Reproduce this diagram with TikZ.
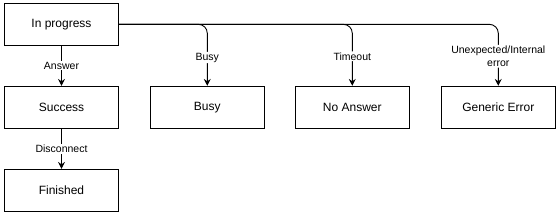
\documentclass[tikz,border=0pt]{standalone}
\usepackage{fontspec}
\setmainfont{Liberation Sans}
\usetikzlibrary{arrows.meta}
\begin{document}
\begin{tikzpicture}[x=1pt,y=-1pt,
  box/.style={draw,line width=0.9pt,minimum width=114pt,minimum height=42pt,inner sep=0pt,font=\fontsize{12}{14}\selectfont},
  conn/.style={line width=0.9pt,-{Stealth[length=7pt,width=7pt,inset=2.5pt]}},
  lbl/.style={fill=white,inner sep=1pt,font=\fontsize{10.5}{13}\selectfont,align=center}]
\useasboundingbox (0,0) rectangle (560,214);
\node[box] (prog) at (61.5,24.3) {In progress};
\node[box] (succ) at (61.5,107.3) {Success};
\node[box] (fin) at (61.5,190.3) {Finished};
\node[box] (busy) at (207.3,107.3) {Busy};
\node[box] (noans) at (352.3,107.3) {No Answer};
\node[box] (gen) at (498.3,107.3) {Generic Error};
\draw[conn] (prog) -- node[lbl,pos=0.5]{Answer} (succ);
\draw[conn] (succ) -- node[lbl,pos=0.5]{Disconnect} (fin);
\draw[conn,rounded corners=9pt] (prog.east) -| node[lbl,pos=0.77]{Busy} (busy.north);
\draw[conn,rounded corners=9pt] (prog.east) -| node[lbl,pos=0.76]{Timeout} (noans.north);
\draw[conn,rounded corners=9pt] (prog.east) -| node[lbl,pos=0.76]{Unexpected/Internal\\error} (gen.north);
\end{tikzpicture}
\end{document}
